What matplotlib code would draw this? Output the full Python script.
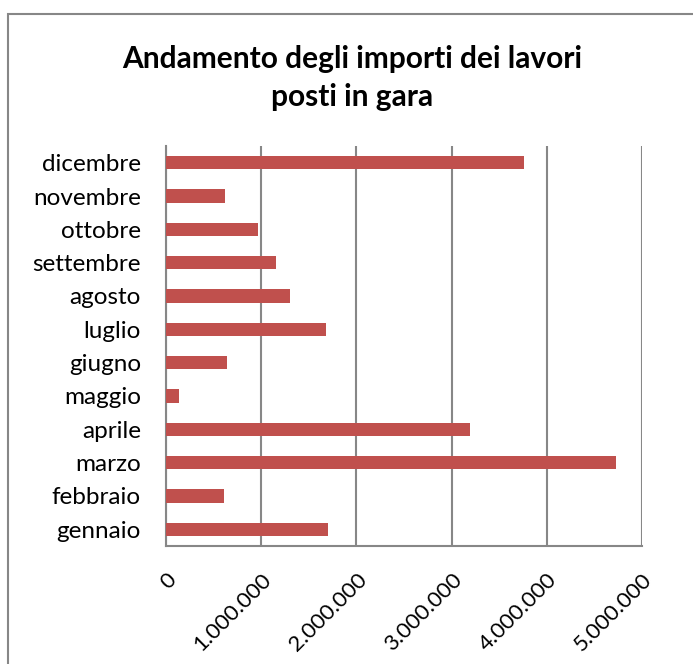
import matplotlib.pyplot as plt
from matplotlib.patches import Rectangle
from matplotlib.ticker import FuncFormatter

# dati
mesi = ["gennaio", "febbraio", "marzo", "aprile", "maggio", "giugno",
        "luglio", "agosto", "settembre", "ottobre", "novembre", "dicembre"]
importi = [1700000, 610000, 4730000, 3190000, 140000, 640000,
           1680000, 1300000, 1160000, 970000, 620000, 3760000]
x_ticks = [0, 1000000, 2000000, 3000000, 4000000, 5000000]

plt.rcParams['font.family'] = ['Lato', 'DejaVu Sans']

fig = plt.figure(figsize=(6.93, 6.64), dpi=100)
ax = fig.add_axes([166/693, 1 - 546/664, (642-166)/693, (546-146)/664])

# bordo esterno del grafico
fig.patches.append(Rectangle((8/693, -0.1), 1.2, 1 - 14/664 + 0.1,
                             transform=fig.transFigure, fill=False,
                             edgecolor='#878787', linewidth=1.5))

ax.barh(range(len(mesi)), importi, height=0.4, color='#C0504D', zorder=3)

ax.set_xlim(0, 5000000)
ax.set_ylim(-0.5, len(mesi) - 0.5)
ax.set_yticks(range(len(mesi)))
ax.set_yticklabels(mesi, fontsize=17.5)
ax.set_xticks(x_ticks)
ax.xaxis.set_major_formatter(FuncFormatter(lambda v, p: f"{int(v):,}".replace(",", ".")))
plt.setp(ax.get_xticklabels(), rotation=45, ha='right', rotation_mode='anchor', fontsize=16)

# griglia
ax.set_axisbelow(True)
ax.xaxis.grid(color='#878787', linestyle='solid', linewidth=1.5)
ax.tick_params(axis='y', length=0, pad=18)
ax.tick_params(axis='x', length=0, pad=17)
for s in ['top', 'right']:
    ax.spines[s].set_visible(False)
for s in ['left', 'bottom']:
    ax.spines[s].set_color('#878787')
    ax.spines[s].set_linewidth(1.5)

fig.text(352/693, 1 - 78/664, "Andamento degli importi dei lavori\nposti in gara",
         ha='center', va='center', fontsize=21.5, fontweight='bold', linespacing=1.4)

fig.savefig("out.png", dpi=100)
